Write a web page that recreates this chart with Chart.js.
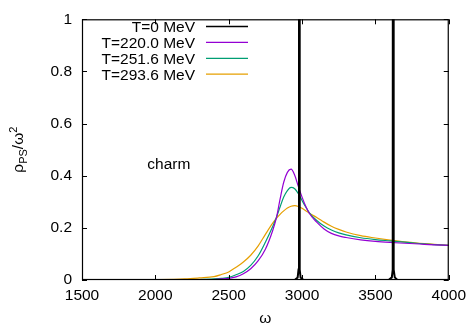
<!DOCTYPE html>
<html>
<head>
<meta charset="utf-8">
<script src="https://cdn.jsdelivr.net/npm/chart.js@4.4.1/dist/chart.umd.min.js"></script>
<style>
html,body{margin:0;padding:0;background:#fff;}
#wrap{width:472px;height:325px;}
</style>
</head>
<body>
<div id="wrap"><canvas id="c" width="472" height="325"></canvas></div>
<script>
// ---- data ----
const omega    = [1500,1800,2000,2200,2300,2400,2450,2500,2550,2600,2650,2700,2750,2800,2825,2850,2875,2900,2925,2950,2975,3000,3025,3050,3100,3150,3200,3250,3300,3400,3500,3600,3700,3800,3900,4000];
const rhoT220  = [0,0,0,0.000,0.001,0.002,0.004,0.006,0.012,0.024,0.043,0.073,0.118,0.190,0.238,0.310,0.375,0.413,0.425,0.402,0.358,0.318,0.283,0.255,0.222,0.196,0.179,0.169,0.163,0.154,0.148,0.144,0.141,0.138,0.135,0.133];
const rhoT2516 = [0,0,0,0.001,0.002,0.004,0.006,0.010,0.020,0.033,0.056,0.092,0.145,0.205,0.240,0.280,0.318,0.343,0.355,0.350,0.331,0.305,0.280,0.258,0.228,0.207,0.192,0.181,0.173,0.162,0.155,0.150,0.145,0.140,0.136,0.133];
const rhoT2936 = [0,0,0.001,0.004,0.008,0.013,0.021,0.031,0.049,0.069,0.095,0.130,0.175,0.218,0.236,0.252,0.265,0.276,0.283,0.285,0.282,0.275,0.266,0.256,0.240,0.222,0.206,0.194,0.184,0.170,0.161,0.153,0.146,0.141,0.137,0.133];
const omegaT0  = [1500,2950,2970,2976,2979,2981,2984,2990,3010,3590,3612,3618,3621,3623,3626,3632,3650,4000];
const rhoT0    = [0,0,0.01,0.04,5,5,0.04,0.01,0,0,0.01,0.04,5,5,0.04,0.01,0,0];
const seriesLabels = ["T=0 MeV","T=220.0 MeV","T=251.6 MeV","T=293.6 MeV"];
const xTicks = [1500,2000,2500,3000,3500,4000];
const yTicks = [0,0.2,0.4,0.6,0.8,1];

const colors = ["#000000","#9400d3","#009e73","#e69f00"];
const FAMILY = "'Liberation Sans', Arial, sans-serif";
const FSIZE = 15.5;
const FONT = FSIZE + "px " + FAMILY;

function pts(xs, ys){ return xs.map((x,i)=>({x:x,y:ys[i]})); }

const overlay = {
  id:'overlay',
  afterDraw(chart){
    const ctx = chart.ctx, a = chart.chartArea;
    const xs = chart.scales.x, ys = chart.scales.y;
    ctx.save();
    // frame
    ctx.strokeStyle = '#000'; ctx.lineWidth = 1.2;
    ctx.strokeRect(a.left+0.5, a.top+0.5, a.right-a.left-1, a.bottom-a.top-1);
    // inward ticks, mirrored
    const tl = 5;
    ctx.lineWidth = 1;
    ctx.beginPath();
    xs.ticks.forEach(t=>{
      const px = Math.round(xs.getPixelForValue(t.value))+0.5;
      ctx.moveTo(px, a.bottom); ctx.lineTo(px, a.bottom-tl);
      ctx.moveTo(px, a.top); ctx.lineTo(px, a.top+tl);
    });
    ys.ticks.forEach(t=>{
      const py = Math.round(ys.getPixelForValue(t.value))+0.5;
      ctx.moveTo(a.left, py); ctx.lineTo(a.left+tl, py);
      ctx.moveTo(a.right, py); ctx.lineTo(a.right-tl, py);
    });
    ctx.stroke();
    // legend
    ctx.font = FONT; ctx.fillStyle = '#000';
    ctx.textAlign = 'right'; ctx.textBaseline = 'alphabetic';
    seriesLabels.forEach((lab,i)=>{
      const yc = 26 + i*15.9;
      ctx.fillText(lab, 195, yc+6);
      ctx.strokeStyle = colors[i]; ctx.lineWidth = 1.3;
      ctx.beginPath(); ctx.moveTo(206, yc+0.5); ctx.lineTo(248, yc+0.5); ctx.stroke();
    });
    // "charm" label
    ctx.textAlign = 'left';
    ctx.fillText('charm', xs.getPixelForValue(1945), ys.getPixelForValue(0.425));
    // x title
    ctx.textAlign = 'center';
    ctx.fillText('\u03c9', (a.left+a.right)/2, 323);
    // y title rotated with sub/superscript
    const big = FONT, small = "11px " + FAMILY;
    const parts = [["\u03c1",big,0],["PS",small,4],["/\u03c9",big,0],["2",small,-6]];
    let total = 0;
    parts.forEach(p=>{ctx.font=p[1]; p.push(ctx.measureText(p[0]).width); total+=p[3];});
    ctx.translate(23, (a.top+a.bottom)/2);
    ctx.rotate(-Math.PI/2);
    ctx.textAlign = 'left';
    let x = -total/2;
    parts.forEach(p=>{ctx.font=p[1]; ctx.fillText(p[0], x, p[2]); x+=p[3];});
    ctx.restore();
  }
};

new Chart(document.getElementById('c'), {
  type:'line',
  data:{
    datasets:[
      {label:seriesLabels[0], data:pts(omegaT0,rhoT0), borderColor:colors[0], borderWidth:2, tension:0},
      {label:seriesLabels[1], data:pts(omega,rhoT220), borderColor:colors[1], borderWidth:1.2, cubicInterpolationMode:'monotone'},
      {label:seriesLabels[2], data:pts(omega,rhoT2516), borderColor:colors[2], borderWidth:1.2, cubicInterpolationMode:'monotone'},
      {label:seriesLabels[3], data:pts(omega,rhoT2936), borderColor:colors[3], borderWidth:1.2, cubicInterpolationMode:'monotone'}
    ]
  },
  options:{
    responsive:false, animation:false, devicePixelRatio:1,
    elements:{point:{radius:0}, line:{fill:false}},
    layout:{padding:{top:14,right:20,left:0,bottom:0}},
    plugins:{legend:{display:false}, tooltip:{enabled:false}},
    scales:{
      x:{type:'linear', min:1500, max:4000,
         afterBuildTicks(s){ s.ticks = xTicks.map(v=>({value:v})); },
         ticks:{color:'#000', font:{family:FAMILY, size:FSIZE}, padding:6, maxRotation:0, callback:v=>String(v)},
         grid:{display:false, drawTicks:false}, border:{display:false},
         afterFit(s){ s.height = 45; }},
      y:{type:'linear', min:0, max:1,
         afterBuildTicks(s){ s.ticks = yTicks.map(v=>({value:v})); },
         ticks:{color:'#000', font:{family:FAMILY, size:FSIZE}, padding:10, callback:v=>String(v)},
         grid:{display:false, drawTicks:false}, border:{display:false},
         afterFit(s){ s.width = 82; }}
    }
  },
  plugins:[overlay]
});
</script>
</body>
</html>
